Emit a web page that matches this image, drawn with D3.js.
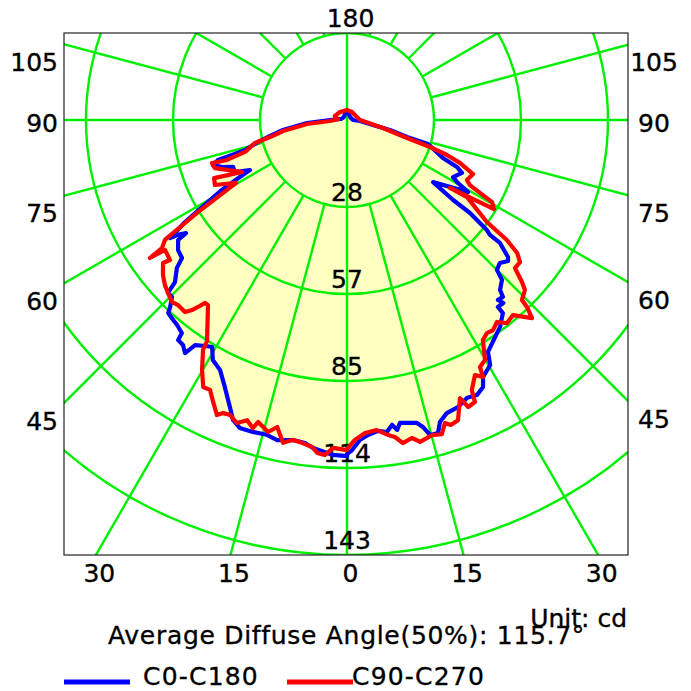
<!DOCTYPE html>
<html><head><meta charset="utf-8">
<script src="https://cdn.jsdelivr.net/npm/d3@7"></script>
<style>html,body{margin:0;padding:0;background:#fff;} svg{display:block;}</style>
</head><body>
<svg id="chart" width="691" height="691"></svg>
<script>
// ---------- data ----------
const ringValues = [28.6, 57.2, 85.8, 114.4, 143];
const ringLabels = ["28", "57", "85", "114", "143"];
const gridAngles = [15, 30, 45, 60, 75, 90, 105, 120, 135, 150, 165];
const sideLabels = [105, 90, 75, 60, 45];
const bottomAngles = [-30, -15, 0, 15, 30];
const seriesNames = ["C0-C180", "C90-C270"];
const seriesColors = ["#0000ff", "#ff0000"];
const diffuseText = "Average Diffuse Angle(50%): 115.7°";
const unitText = "Unit: cd";

// C0-C180, C180 half (left)
const c180Angles = [0,2.4,5.9,7.4,9.6,12.3,14.3,16.8,19.2,20.8,22.2,24.6,26.9,29.2,30.7,32.0,34.0,34.8,36.1,37.5,37.8,39.7,41.0,42.8,43.4,44.7,46.0,46.7,49.0,50.1,52.4,54.6,54.9,55.8,56.3,57.8,59.0,60.8,62.0,62.7,65.1,67.6,69.4,71.4,72.8,73.1,73.6,76.1,78.3,81.1,85.7,90,100,120,140,160,180];
const c180Values = [110.5,110.2,108.4,107.1,106.7,107.7,106.8,107.1,107.2,105.5,101.9,96.5,92.2,90.4,86.8,87.6,89.3,93.3,91.5,91.2,88.6,87.5,87.1,86.5,84.6,81.8,81.8,77.7,74.1,70.7,70.1,68.1,64.7,67.2,69.9,62.9,55.6,47.1,39.9,35.9,40.6,40.5,43.9,46.5,44.4,39.5,34.9,30.1,25.8,21.3,13.2,5.6,2.0,1.5,1.5,2.0,2.5];
// C0-C180, C0 half (right)
const c0Angles = [0,0.9,2.3,3.8,5.7,7.3,8.4,9.2,9.9,13.0,13.9,14.8,16.2,17.1,18.8,21.1,23.4,25.3,27.0,27.9,30.3,31.3,33.3,36.5,38.9,38.9,40.5,40.0,41.4,42.0,44.1,45.0,46.9,48.8,49.6,51.2,51.2,51.8,52.9,53.0,54.2,59.2,60.6,61.7,65.3,66.9,68.4,73.5,74.2,76.9,79.1,85.6,90,110,140,160,180];
const c0Values = [109.8,108.5,105.3,103.8,102.7,103.4,101.3,103.2,101.1,102.2,104.0,107.1,107.2,103.9,101.8,101.2,99.5,100.0,98.5,95.6,93.3,89.2,87.3,84.6,81.6,79.0,79.1,77.2,77.5,75.2,73.2,69.7,68.8,70.4,69.5,64.5,60.3,58.5,50.7,43.7,34.9,46.3,41.5,39.6,41.6,39.3,33.9,27.8,20.5,14.5,8.7,4.3,2.0,1.5,1.5,2.0,2.5];
// C90-C270, C270 half (left)
const c270Angles = [0,2.4,3.8,5.1,6.1,8.3,9.75,11.2,12.8,14.2,16.4,17.0,18.4,20.0,21.6,22.9,23.8,25.4,26.9,28.3,30.1,32.05,32.35,36.9,37.8,38.55,39.2,40.15,42.4,43.9,46.0,47.8,49.9,52.15,51.65,54.5,55.0,55.3,56.6,56.75,57.55,58.3,59.2,60.4,63.8,66.4,63.65,70.0,72.3,71.6,72.6,76.0,77.5,80.2,84.3,86.6,95,108.4,138.8,180];
const c270Values = [108.5,107.9,110.4,109.9,108.1,107.0,106.7,108.2,103.5,105.8,103.5,105.9,104.0,106.0,104.3,104.6,106.0,102.6,99.5,99.7,95.0,89.2,86.0,76.1,76.1,78.6,80.6,82.6,82.4,83.0,81.8,80.8,79.1,76.6,74.2,73.5,79.1,74.0,71.7,70.8,63.1,57.6,49.4,41.9,48.4,47.7,38.5,46.2,46.6,41.6,35.1,31.2,25.9,21.3,13.2,5.6,3.0,4.2,3.5,3.3];
// C90-C270, C90 half (right)
const c90Angles = [0,1.4,3.3,5.5,7.4,8.6,9.8,11.55,12.8,15.1,16.8,17.9,18.8,20.3,22.1,22.9,24.4,24.8,26.65,27.9,28.3,29.9,31.7,33.3,34.8,36.6,38.2,40.4,43.05,43.9,44.2,46.3,47.2,48.6,50.6,52.0,53.1,53.9,57.3,56.6,58.8,60.5,62.1,63.4,66.8,69.2,70.7,72.0,73.3,77.5,90,114,148,180];
const c90Values = [108.2,105.2,103.1,102.4,104.4,105.4,107.8,106.7,108.5,107.3,107.9,104.7,105.9,105.2,98.7,102.4,101.8,97.8,93.8,95.6,92.2,91.0,85.0,83.8,84.1,82.7,85.0,84.2,89.1,85.3,82.5,80.9,78.4,73.6,73.6,71.0,65.7,56.9,46.9,40.6,56.5,54.8,45.7,44.1,45.1,39.7,34.8,28.7,20.6,12.1,4.3,3.2,3.1,3.3];

// ---------- layout ----------
const cx = 347, cy = 120, R = 435;
const fx0 = 64, fx1 = 628, fy0 = 33, fy1 = 555;
const font = "'DejaVu Sans', Verdana, sans-serif";
const fontSize = 25;
const green = "#00f000";
const fillColor = "#ffffc2";

const svg = d3.select("#chart");
svg.append("rect").attr("width", 691).attr("height", 691).attr("fill", "#fff");

const r = d3.scaleLinear().domain([0, ringValues[ringValues.length - 1]]).range([0, R]);
const rad = d => d * Math.PI / 180;

svg.append("defs").append("clipPath").attr("id", "frameClip")
  .append("rect").attr("x", fx0).attr("y", fy0).attr("width", fx1 - fx0).attr("height", fy1 - fy0);

const plot = svg.append("g").attr("clip-path", "url(#frameClip)");
const centre = plot.append("g").attr("transform", `translate(${cx},${cy})`);

// build series points (d3 radial angle: 0 = up, clockwise)
function halfPoints(angles, values, side) {
  return angles.map((a, i) => ({ a: side > 0 ? Math.PI - rad(a) : Math.PI + rad(a), v: values[i] }));
}
const series = [
  halfPoints(c0Angles, c0Values, 1).reverse().concat(halfPoints(c180Angles, c180Values, -1)),
  halfPoints(c90Angles, c90Values, 1).reverse().concat(halfPoints(c270Angles, c270Values, -1))
];
const line = d3.lineRadial().angle(d => d.a).radius(d => r(d.v)).curve(d3.curveLinear);

// fill
series.forEach(s => {
  centre.append("path").attr("d", line(s) + "Z").attr("fill", fillColor).attr("stroke", "none");
});

// rings
centre.selectAll("circle.ring").data(ringValues).join("circle")
  .attr("class", "ring").attr("r", d => r(d)).attr("fill", "none")
  .attr("stroke", green).attr("stroke-width", 2.4);

// radial grid lines
const far = 2000;
[-1, 1].forEach(side => {
  gridAngles.forEach(a => {
    const t = rad(a);
    const r0 = r(ringValues[0]);
    centre.append("line")
      .attr("x1", side * r0 * Math.sin(t)).attr("y1", r0 * Math.cos(t))
      .attr("x2", side * far * Math.sin(t)).attr("y2", far * Math.cos(t))
      .attr("stroke", green).attr("stroke-width", 2.4);
  });
});
centre.append("line").attr("x1", 0).attr("x2", 0).attr("y1", -far).attr("y2", far)
  .attr("stroke", green).attr("stroke-width", 2.4);

const txt = (parent, x, y, s, anchor) => parent.append("text").attr("x", x).attr("y", y)
  .attr("text-anchor", anchor).attr("font-family", font).attr("font-size", fontSize)
  .attr("fill", "#000").attr("stroke", "#000").attr("stroke-width", 0.35).text(s);

// ring labels
ringValues.forEach((v, i) => txt(centre, 0, r(v) - 6, ringLabels[i], "middle"));

// curves
series.forEach((s, i) => {
  centre.append("path").attr("d", line(s) + "Z").attr("fill", "none")
    .attr("stroke", seriesColors[i]).attr("stroke-width", 4.2).attr("stroke-linejoin", "round");
});

// frame
svg.append("rect").attr("x", fx0).attr("y", fy0).attr("width", fx1 - fx0).attr("height", fy1 - fy0)
  .attr("fill", "none").attr("stroke", "#222").attr("stroke-width", 1.2);

// angle labels
sideLabels.forEach(a => {
  const t = rad(a);
  const yl = a === 90 ? cy : cy + (cx - fx0) / Math.tan(t);
  const yr = a === 90 ? cy : cy + (fx1 - cx) / Math.tan(t);
  const off = a === 90 ? 3 : 18;
  txt(svg, fx0 - 6, yl + off, a, "end").attr("dominant-baseline", "central");
  txt(svg, 654, yr + off, a, "middle").attr("dominant-baseline", "central");
});
bottomAngles.forEach(a => {
  const x = cx + (fy1 - cy) * Math.tan(rad(a));
  txt(svg, x + 3.5, 582, Math.abs(a), "middle");
});
txt(svg, cx + 3.5, 27, 180, "middle");

// footer texts
txt(svg, 108, 644, diffuseText, "start").attr("letter-spacing", 0.7);
txt(svg, 627, 627, unitText, "end");

// legend
const legendX = [64, 287];
seriesNames.forEach((n, i) => {
  svg.append("line").attr("x1", legendX[i]).attr("x2", legendX[i] + 66)
    .attr("y1", 682).attr("y2", 682).attr("stroke", seriesColors[i]).attr("stroke-width", 5);
  txt(svg, legendX[i] + (i === 0 ? 79 : 65), 685, n, "start").attr("letter-spacing", 1.2);
});
</script>
</body></html>
